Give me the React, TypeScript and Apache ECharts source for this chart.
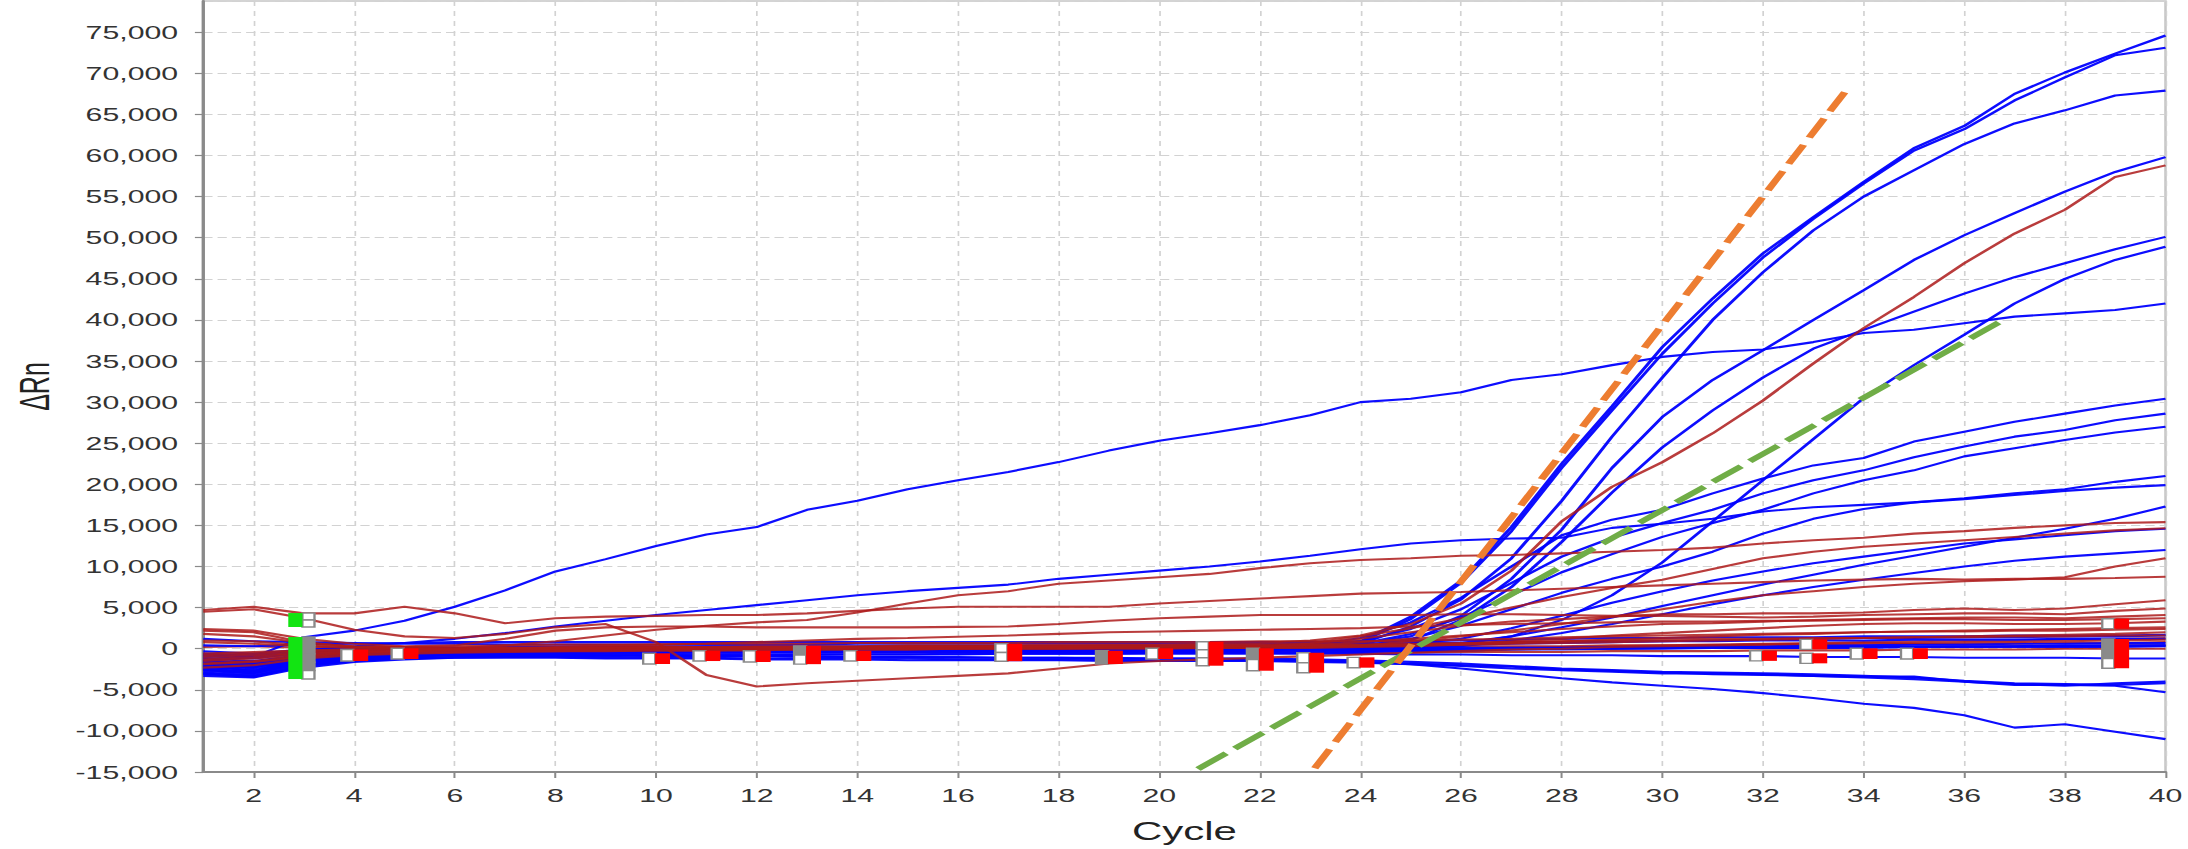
import React, { useEffect, useRef } from "react";
import * as echarts from "echarts";

// The plot is laid out on a narrower canvas and widened with a horizontal scale,
// which gives the wide lettering and broad strokes of the amplification view.
const STRETCH = 1.68;
const PAGE_W = 2188;
const PAGE_H = 849;
const CHART_W = PAGE_W / STRETCH;

const cycles = [
  1, 2, 3, 4, 5, 6, 7, 8, 9, 10, 11, 12, 13, 14, 15, 16, 17, 18, 19, 20,
  21, 22, 23, 24, 25, 26, 27, 28, 29, 30, 31, 32, 33, 34, 35, 36, 37, 38, 39, 40,
];
const cycleTicks = [2, 4, 6, 8, 10, 12, 14, 16, 18, 20, 22, 24, 26, 28, 30, 32, 34, 36, 38, 40];

// ---- Blue wells: amplifying ----
const blueT1 = [
  -1800, -2300, -900, -500, -300, -200, -100, 0, 0, 100,
  100, 100, 200, 200, 200, 200, 300, 300, 300, 300,
  300, 400, 600, 900, 3900, 8300, 14800, 22500, 29500, 36700,
  42600, 48100, 52500, 56800, 60900, 63600, 67500, 70100, 72400, 74600,
];
const blueT2 = [
  -2100, -2700, -1200, -700, -400, -300, -200, -100, -100, 0,
  0, 0, 100, 100, 100, 100, 200, 200, 200, 200,
  200, 300, 500, 800, 3600, 8000, 14300, 22000, 29000, 35900,
  42000, 47600, 52300, 56600, 60600, 63200, 66700, 69500, 72200, 73100,
];
const blueT3 = [
  -1500, -1900, -800, -400, -200, -100, 0, 0, 100, 100,
  100, 200, 200, 200, 200, 300, 300, 300, 300, 300,
  300, 300, 400, 600, 2700, 6000, 11000, 18000, 25800, 33000,
  40000, 45800, 50900, 55000, 58200, 61400, 63900, 65500, 67300, 67900,
];
const blueB4 = [
  -1200, -1500, -700, -300, -200, -100, 0, 0, 0, 100,
  100, 100, 100, 200, 200, 200, 200, 200, 300, 300,
  300, 300, 400, 600, 1500, 4000, 8500, 14500, 22000, 28200,
  32700, 36300, 40000, 43600, 47300, 50300, 53000, 55600, 58000, 59800,
];
const blueB5 = [
  -2600, -3000, -1600, -1000, -700, -500, -400, -300, -300, -200,
  -200, -200, -100, -100, -100, -100, 0, 0, 0, 0,
  0, 100, 200, 400, 1000, 3500, 7500, 13000, 19000, 24500,
  29000, 33000, 36500, 38800, 41000, 43200, 45200, 46900, 48600, 50100,
];
const blueB6 = [
  -800, -1100, -400, -200, -100, 0, 0, 100, 100, 100,
  100, 100, 100, 100, 100, 100, 100, 100, 100, 100,
  100, 100, 100, 100, 100, 500, 1500, 3500, 6500, 10500,
  15500, 20500, 25500, 30500, 34500, 38200, 42000, 45000, 47300, 48900,
];
const blueEarly = [
  -1500, -1000, 1400, 2200, 3400, 5100, 7100, 9400, 10900, 12500,
  13900, 14800, 16900, 18000, 19400, 20500, 21500, 22700, 24100, 25300,
  26200, 27200, 28400, 30000, 30400, 31200, 32700, 33400, 34500, 35500,
  36100, 36400, 37300, 38400, 38800, 39600, 40400, 40800, 41200, 42000,
];
const blueB8 = [
  -2200, -2600, -1400, -900, -700, -500, -400, -300, -300, -200,
  -200, -200, -100, -100, -100, -100, -100, 0, 0, 0,
  0, 100, 400, 1300, 3200, 6200, 10000, 13800, 15700, 16900,
  18900, 20700, 22300, 23200, 25200, 26400, 27600, 28600, 29600, 30400,
];
const blueB9 = [
  -2900, -3200, -1800, -1200, -900, -700, -600, -500, -400, -400,
  -300, -300, -300, -200, -200, -200, -200, -100, -100, -100,
  -100, 0, 200, 900, 2400, 4800, 8000, 11200, 13500, 15300,
  16900, 18900, 20500, 21700, 23300, 24600, 25800, 26600, 27800, 28600,
];
const blueB10 = [
  -600, -900, -300, -100, 0, 0, 100, 100, 100, 100,
  200, 200, 200, 200, 200, 200, 200, 200, 200, 200,
  200, 200, 300, 600, 1800, 3800, 6500, 9300, 11500, 13600,
  15300, 16900, 18900, 20500, 21700, 23400, 24400, 25400, 26300, 27000,
];
const blueSlow = [
  -1000, -800, -200, 300, 700, 1200, 1900, 2700, 3400, 4100,
  4700, 5300, 5900, 6500, 7000, 7400, 7800, 8500, 9000, 9500,
  10000, 10600, 11300, 12100, 12800, 13200, 13400, 13500, 14700, 15200,
  15800, 16700, 17200, 17500, 17800, 18300, 18900, 19400, 20300, 21000,
];
const blueB12 = [
  -1700, -2000, -1000, -600, -400, -300, -200, -200, -100, -100,
  -100, -100, 0, 0, 0, 0, 0, 0, 0, 100,
  100, 100, 200, 300, 1200, 2800, 4800, 6800, 8500, 10000,
  11800, 14000, 15800, 17000, 17800, 18200, 18700, 19200, 19600, 19900,
];
const blueB13 = [
  -2400, -2800, -1500, -900, -700, -600, -500, -400, -400, -300,
  -300, -300, -200, -200, -200, -200, -100, -100, -100, -100,
  -100, -100, 0, 100, 200, 700, 1500, 2600, 3800, 5200,
  6500, 7800, 9000, 10200, 11300, 12400, 13500, 14600, 15800, 17300,
];
const blueB14 = [
  -300, -600, -100, 0, 100, 100, 200, 200, 200, 200,
  300, 300, 300, 300, 300, 300, 300, 300, 300, 300,
  300, 300, 300, 300, 600, 1200, 2500, 4000, 5600, 7000,
  8300, 9400, 10400, 11200, 12000, 12800, 13300, 13800, 14300, 14600,
];
const blueB15 = [
  -3100, -3400, -2000, -1300, -1000, -800, -700, -600, -500, -500,
  -400, -400, -400, -300, -300, -300, -300, -200, -200, -200,
  -200, -200, -100, 0, 100, 300, 1000, 1900, 3000, 4200,
  5400, 6500, 7500, 8400, 9200, 10000, 10700, 11200, 11600, 12000,
];

// ---- Blue wells: drifting downward ----
const blueN1 = [
  -1400, -1700, -900, -700, -700, -700, -800, -800, -800, -900,
  -900, -900, -1000, -1000, -1000, -1100, -1100, -1100, -1200, -1200,
  -1200, -1300, -1400, -1600, -1900, -2400, -3000, -3600, -4100, -4500,
  -4900, -5400, -6000, -6700, -7200, -8100, -9600, -9200, -10100, -11000,
];
const blueN2 = [
  -2700, -3000, -1800, -1300, -1100, -1000, -1000, -1000, -1100, -1100,
  -1100, -1200, -1200, -1200, -1200, -1300, -1300, -1300, -1300, -1400,
  -1400, -1400, -1500, -1600, -1800, -2000, -2200, -2500, -2700, -2900,
  -3100, -3200, -3300, -3400, -3400, -4000, -4400, -4400, -4500, -5300,
];
const blueN3 = [
  -1900, -2200, -1300, -900, -800, -700, -700, -800, -800, -800,
  -900, -900, -900, -1000, -1000, -1000, -1100, -1100, -1100, -1200,
  -1200, -1200, -1300, -1400, -1600, -1800, -2100, -2400, -2600, -2800,
  -2900, -3000, -3100, -3300, -3500, -3900, -4200, -4300, -4400, -4200,
];
const blueN4 = [
  -3000, -3400, -2100, -1500, -1200, -1100, -1100, -1100, -1200, -1200,
  -1200, -1300, -1300, -1300, -1400, -1400, -1400, -1400, -1500, -1500,
  -1500, -1500, -1600, -1700, -1900, -2100, -2400, -2600, -2800, -3000,
  -3000, -3100, -3300, -3500, -3700, -4000, -4300, -4500, -4200, -4000,
];

// ---- Blue wells: flat ----
const blueFlat1 = [
  -3300, -3500, -2300, -1600, -1300, -1100, -1000, -900, -900, -800,
  -800, -800, -700, -700, -700, -600, -600, -600, -600, -500,
  -500, -500, -500, -400, -300, -200, -100, 0, 100, 200,
  300, 300, 400, 400, 500, 500, 600, 600, 700, 700,
];
const blueFlat2 = [
  1200, 900, 800, 700, 600, 600, 500, 500, 500, 500,
  500, 500, 500, 600, 600, 600, 600, 600, 600, 600,
  600, 600, 600, 600, 700, 700, 800, 800, 900, 900,
  900, 1000, 1000, 1000, 1100, 1100, 1100, 1200, 1200, 1200,
];
const blueFlat3 = [
  -2500, -2800, -1600, -1100, -900, -800, -700, -700, -600, -600,
  -600, -500, -500, -500, -500, -400, -400, -400, -400, -400,
  -300, -300, -300, -300, -200, -200, -100, -100, 0, 0,
  100, 100, 100, 200, 200, 200, 300, 300, 300, 400,
];
const blueFlat4 = [
  -800, -1200, -500, -200, -100, 0, 0, 0, 100, 100,
  100, 100, 100, 100, 200, 200, 200, 200, 200, 200,
  200, 200, 300, 300, 400, 500, 600, 700, 800, 900,
  1000, 1100, 1200, 1300, 1300, 1400, 1400, 1500, 1500, 1600,
];
const blueFlat5 = [
  -1600, -1900, -1000, -600, -500, -400, -300, -300, -300, -200,
  -200, -200, -200, -200, -100, -100, -100, -100, -100, -100,
  -100, 0, 0, 0, 0, 100, 100, 100, 200, 200,
  200, 200, 300, 300, 300, 300, 300, 400, 400, 400,
];
const blueFlat6 = [
  -3000, -3300, -2000, -1400, -1200, -1000, -900, -900, -800, -800,
  -800, -700, -700, -700, -700, -700, -600, -600, -600, -600,
  -600, -600, -600, -600, -700, -700, -800, -800, -800, -900,
  -900, -900, -1000, -1000, -1000, -1100, -1100, -1100, -1200, -1200,
];
const blueFlat7 = [
  400, 300, 500, 600, 700, 800, 800, 800, 800, 800,
  800, 800, 800, 800, 800, 800, 800, 800, 800, 800,
  800, 800, 800, 900, 900, 1000, 1100, 1200, 1300, 1300,
  1400, 1400, 1400, 1500, 1500, 1500, 1600, 1600, 1600, 1700,
];
const blueFlat8 = [
  -2000, -2400, -1300, -800, -600, -500, -400, -400, -300, -300,
  -300, -300, -200, -200, -200, -200, -200, -200, -100, -100,
  -100, -100, -100, -100, -100, 0, 0, 0, 0, 100,
  100, 100, 100, 100, 200, 200, 200, 200, 200, 300,
];

// ---- Red wells ----
const redSigmoid = [
  -800, -600, -300, -200, -100, 0, 100, 100, 200, 200,
  200, 300, 300, 300, 400, 400, 400, 500, 500, 500,
  600, 700, 1000, 1600, 3000, 5500, 9500, 15500, 19700, 22700,
  26200, 30200, 34700, 39000, 42800, 46900, 50500, 53400, 57400, 58800,
];
const redEarly = [
  -1500, -1200, -800, -500, -300, 0, 400, 900, 1600, 2300,
  2800, 3200, 3500, 4400, 5500, 6500, 7000, 7900, 8300, 8700,
  9100, 9800, 10400, 10800, 11000, 11300, 11400, 11600, 11800, 12000,
  12300, 12800, 13200, 13500, 14000, 14300, 14700, 15000, 15300, 15400,
];
const redR3 = [
  -1000, -800, -500, -300, -200, -100, 0, 0, 100, 100,
  100, 100, 200, 200, 200, 200, 300, 300, 300, 300,
  400, 500, 700, 1500, 2500, 3700, 5000, 6300, 7400, 8400,
  9700, 11000, 11800, 12400, 12800, 13200, 13600, 14000, 14400, 14650,
];
const redR4 = [
  -1900, -1600, -1000, -700, -500, -400, -300, -300, -200, -200,
  -200, -100, -100, -100, -100, 0, 0, 0, 0, 0,
  100, 100, 200, 400, 900, 1500, 2200, 3000, 3900, 4800,
  5700, 6500, 7000, 7500, 7900, 8200, 8400, 8700, 10000, 11000,
];
const redHigh = [
  4700, 5100, 4300, 4300, 5100, 4300, 3100, 3700, 3900, 4000,
  4100, 4100, 4300, 4600, 4900, 5100, 5100, 5100, 5100, 5500,
  5800, 6100, 6400, 6700, 6800, 6900, 7100, 7300, 7500, 7700,
  7900, 8100, 8300, 8400, 8500, 8400, 8500, 8500, 8600, 8760,
];
const redR6 = [
  -2300, -2000, -1200, -800, -600, -500, -400, -300, -300, -200,
  -200, -200, -100, -100, -100, 0, 0, 0, 100, 100,
  200, 300, 600, 1200, 2000, 2800, 3300, 3600, 3900, 4200,
  4200, 4300, 4300, 4400, 4700, 4900, 4700, 4900, 5400, 5900,
];
const redR7 = [
  2400, 2200, 1200, 600, 300, 400, 1200, 2200, 2600, 2700,
  2700, 2600, 2600, 2600, 2600, 2650, 2700, 3000, 3400, 3700,
  3900, 4100, 4100, 4100, 4100, 4200, 4200, 4100, 4000, 4000,
  3900, 3800, 3900, 4100, 4200, 4300, 4300, 4200, 4600, 4900,
];
const redR8 = [
  -1300, -1000, -600, -400, -300, -200, -200, -100, -100, 0,
  0, 0, 0, 100, 100, 100, 100, 200, 200, 200,
  200, 300, 400, 800, 1200, 1600, 2000, 2400, 2700, 3000,
  3100, 3300, 3500, 3600, 3700, 3800, 3800, 3700, 3900, 4100,
];
const redR9 = [
  -600, -400, -200, -100, 0, 0, 100, 100, 100, 200,
  200, 200, 200, 200, 300, 300, 300, 300, 300, 300,
  300, 300, 400, 400, 500, 600, 900, 1200, 1600, 1900,
  2200, 2500, 2800, 3000, 3100, 3100, 3000, 3000, 3100, 3300,
];
const redDip = [
  4500, 4800, 3700, 2300, 1500, 1300, 1800, 2600, 3000, 800,
  -3200, -4600, -4200, -3900, -3600, -3300, -3000, -2400, -1800, -1500,
  -1300, -1100, -900, -700, -500, -300, -100, 0, 200, 300,
  400, 500, 600, 700, 700, 800, 800, 900, 1000, 1100,
];
const redR10 = [
  2200, 2000, 800, 200, 0, -100, 0, 200, 400, 500,
  600, 800, 1000, 1200, 1300, 1450, 1600, 1800, 2000, 2100,
  2200, 2300, 2400, 2500, 2700, 2900, 3000, 3100, 3200, 3300,
  3300, 3400, 3400, 3500, 3600, 3600, 3500, 3500, 3600, 3700,
];
const redFlat1 = [
  -2500, -2200, -1400, -900, -700, -600, -500, -500, -500, -400,
  -400, -400, -400, -400, -400, -300, -300, -300, -300, -300,
  -300, -300, -200, -200, -100, 0, 100, 200, 300, 400,
  500, 600, 700, 800, 900, 1000, 1000, 1100, 1200, 1300,
];
const redFlat2 = [
  1800, 1500, 700, 300, 200, 100, 100, 0, 0, 0,
  0, 0, 100, 100, 100, 100, 100, 100, 100, 200,
  200, 200, 200, 300, 400, 500, 600, 700, 800, 900,
  1000, 1100, 1200, 1300, 1400, 1500, 1600, 1700, 1800, 2000,
];
const redFlat3 = [
  -1200, -1000, -600, -300, -200, -100, 0, 0, 0, 0,
  100, 100, 100, 100, 100, 100, 100, 100, 100, 100,
  100, 100, 200, 200, 200, 300, 300, 300, 400, 400,
  400, 500, 500, 500, 600, 600, 600, 700, 700, 800,
];
const redFlat4 = [
  200, 300, 100, 0, -100, -200, -200, -200, -300, -300,
  -300, -300, -300, -400, -400, -400, -400, -400, -400, -500,
  -500, -500, -500, -500, -500, -400, -400, -400, -300, -300,
  -300, -200, -200, -200, -100, -100, -100, 0, 0, 0,
];
const redFlat5 = [
  -1800, -1500, -900, -500, -300, -200, -100, -100, 0, 0,
  0, 0, 0, 0, 0, 0, 100, 100, 100, 100,
  100, 100, 100, 200, 300, 500, 700, 900, 1100, 1300,
  1500, 1700, 1800, 2000, 2100, 2200, 2300, 2400, 2500, 2600,
];
const redFlat6 = [
  800, 600, 300, 100, 100, 0, 0, 0, 100, 100,
  100, 200, 200, 200, 300, 300, 300, 300, 400, 400,
  400, 400, 500, 500, 600, 700, 800, 900, 1000, 1100,
  1200, 1200, 1300, 1300, 1400, 1400, 1500, 1500, 1600, 1600,
];
const redFlat7 = [
  -600, -800, -400, -200, -100, -100, -100, -200, -200, -200,
  -300, -300, -300, -300, -300, -300, -300, -300, -200, -200,
  -200, -200, -200, -200, -100, -100, 0, 0, 0, 100,
  100, 100, 200, 200, 200, 300, 300, 300, 400, 400,
];
const redFlat8 = [
  1000, 900, 400, 200, 200, 300, 400, 500, 500, 500,
  600, 600, 600, 700, 700, 700, 700, 800, 800, 800,
  800, 900, 900, 900, 1000, 1100, 1200, 1400, 1500, 1600,
  1700, 1800, 1900, 2000, 2100, 2100, 2200, 2200, 2300, 2400,
];

// Drawing order: a few flat red wells beneath the blue ones, the rest above.
const redUnder = [redFlat1, redFlat3, redFlat4, redFlat7];
const blueWells = [
  blueFlat1, blueFlat2, blueFlat3, blueFlat4, blueFlat5, blueFlat6, blueFlat7, blueFlat8,
  blueN1, blueN2, blueN3, blueN4,
  blueT1, blueT2, blueT3, blueB4, blueB5, blueB6, blueEarly,
  blueB8, blueB9, blueB10, blueSlow, blueB12, blueB13, blueB14, blueB15,
];
const redOver = [
  redFlat2, redFlat5, redFlat6, redFlat8,
  redSigmoid, redEarly, redR3, redR4, redHigh, redR6, redR7, redR8, redR9, redDip, redR10,
];

// ---- Baseline flags: cycle, upper ΔRn, lower ΔRn, kind (0 red, 1 green), grey filled ----
const flagCycle = [3, 3, 4, 5, 10, 11, 12, 13, 14, 17, 19, 20, 21, 22, 23, 24, 32, 33, 33, 34, 35, 39, 39];
const flagHigh = [4340, 1420, -100, 50, -560, -240, -240, 350, -240, 600, -240, 50, 850, 50, -490, -1050, -240, 1140, -560, 50, 50, 3650, 1180];
const flagLow = [2640, -3690, -1500, -1250, -1860, -1500, -1620, -1880, -1500, -1520, -1860, -1250, -2070, -2680, -2920, -2310, -1480, -80, -1780, -1250, -1250, 2440, -2380];
const flagKind = [1, 1, 0, 0, 0, 0, 0, 0, 0, 0, 0, 0, 0, 0, 0, 0, 0, 0, 0, 0, 0, 0, 0];
const flagGreyFill = [0, 1, 0, 0, 0, 0, 0, 1, 0, 0, 1, 0, 0, 1, 0, 0, 0, 0, 0, 0, 0, 0, 1];

// ---- Fitted straight lines ----
const orangeFit = [
  [23.09, -14550],
  [33.67, 68050],
];
const greenFit = [
  [20.77, -14630],
  [36.75, 39900],
];

const yTickStep = 5000;
const yMin = -15000;
const yMax = 78800;

const FONT = '"Liberation Sans", Arial, Helvetica, sans-serif';

function wellSeries(values: number[], color: string, opacity: number, z: number) {
  return {
    type: "line",
    data: values.map((v, i) => [cycles[i], v]),
    showSymbol: false,
    symbol: "none",
    silent: true,
    z,
    lineStyle: { color, width: 2.1, opacity },
  };
}

function flagRenderer(params: any, api: any) {
  const c = api.value(0);
  const hi = api.value(1);
  const lo = api.value(2);
  const kind = api.value(3);
  const greyFill = api.value(4);
  const top = api.coord([c, hi]);
  const bot = api.coord([c, lo]);
  const x = top[0];
  const y = top[1];
  const h = Math.max(bot[1] - top[1], 3);
  const green = kind === 1;
  const colourX = green ? x - 9.3 : x - 0.6;
  const colourW = green ? 8.4 : 8.9;
  const greyX = green ? x - 0.9 : x - 7.7;
  const greyW = 7.2;
  const n = Math.max(1, Math.round(h / 9));
  const step = h / n;
  const children: any[] = [];
  for (let i = 0; i < n; i++) {
    const filled = greyFill === 1 && (i < n - 1 || n === 1);
    children.push({
      type: "rect",
      shape: { x: greyX, y: y + i * step, width: greyW, height: step },
      style: { fill: filled ? "#8a8a8a" : "#ffffff", stroke: "#8a8a8a", lineWidth: 1.4 },
    });
  }
  children.push({
    type: "rect",
    shape: { x: colourX, y, width: colourW, height: h },
    style: { fill: green ? "#12e412" : "#ff0000" },
  });
  return { type: "group", children };
}

export default function App() {
  const ref = useRef<HTMLDivElement>(null);

  useEffect(() => {
    if (!ref.current) return;
    const chart = echarts.init(ref.current, undefined, { renderer: "svg" });

    const series: any[] = [];
    redUnder.forEach((w) => series.push(wellSeries(w, "#ad1a1a", 0.85, 2)));
    blueWells.forEach((w) => series.push(wellSeries(w, "#0000ff", 0.95, 2)));
    redOver.forEach((w) => series.push(wellSeries(w, "#ad1a1a", 0.85, 2)));
    series.push({
      type: "custom",
      silent: true,
      z: 5,
      renderItem: flagRenderer,
      encode: { x: 0, y: [1, 2] },
      data: flagCycle.map((c, i) => [c, flagHigh[i], flagLow[i], flagKind[i], flagGreyFill[i]]),
    });
    series.push({
      type: "line",
      data: greenFit,
      showSymbol: false,
      symbol: "none",
      silent: true,
      z: 8,
      lineStyle: { color: "#70ad47", width: 4.8, type: [23, 7] },
    });
    series.push({
      type: "line",
      data: orangeFit,
      showSymbol: false,
      symbol: "none",
      silent: true,
      z: 9,
      lineStyle: { color: "#ed7d31", width: 4.6, type: [21, 8] },
    });

    chart.setOption({
      animation: false,
      backgroundColor: "#ffffff",
      textStyle: { fontFamily: FONT },
      grid: {
        left: 193 / STRETCH,
        right: 12.5 / STRETCH,
        top: 1,
        bottom: 77,
        show: true,
        borderColor: "#c6c6c6",
        borderWidth: 1.5,
        backgroundColor: "#ffffff",
      },
      xAxis: {
        type: "value",
        min: 1,
        max: 40,
        name: "Cycle",
        nameLocation: "middle",
        nameGap: 47,
        nameTextStyle: { fontSize: 25, color: "#222222", fontFamily: FONT },
        axisLine: { show: true, onZero: false, lineStyle: { color: "#8a8a8a", width: 2 } },
        axisTick: { show: true, length: 6, customValues: cycleTicks, lineStyle: { color: "#8a8a8a", width: 1.2 } },
        axisLabel: { customValues: cycleTicks, fontSize: 18, color: "#333333", margin: 14, fontFamily: FONT },
        splitLine: { show: true, lineStyle: { color: "#d2d2d2", width: 1, type: [5, 5] } },
      },
      yAxis: {
        type: "value",
        min: yMin,
        max: yMax,
        interval: yTickStep,
        name: "ΔRn",
        nameLocation: "middle",
        nameGap: 88,
        nameRotate: 90,
        nameTextStyle: { fontSize: 25, color: "#222222", fontFamily: FONT },
        axisLine: { show: true, onZero: false, lineStyle: { color: "#8a8a8a", width: 2 } },
        axisTick: { show: true, length: 5, lineStyle: { color: "#8a8a8a", width: 1.2 } },
        axisLabel: {
          fontSize: 18,
          color: "#333333",
          margin: 15,
          showMaxLabel: false,
          fontFamily: FONT,
          formatter: (v: number) => v.toLocaleString("en-US"),
        },
        splitLine: { show: true, lineStyle: { color: "#d2d2d2", width: 1, type: [5.5, 3] } },
      },
      series,
    });

    return () => chart.dispose();
  }, []);

  return (
    <div
      style={{
        position: "fixed",
        left: 0,
        top: 0,
        width: PAGE_W,
        height: PAGE_H,
        overflow: "hidden",
        background: "#ffffff",
      }}
    >
      <div
        ref={ref}
        style={{
          width: CHART_W,
          height: PAGE_H,
          transform: `scaleX(${STRETCH})`,
          transformOrigin: "0 0",
        }}
      />
    </div>
  );
}
